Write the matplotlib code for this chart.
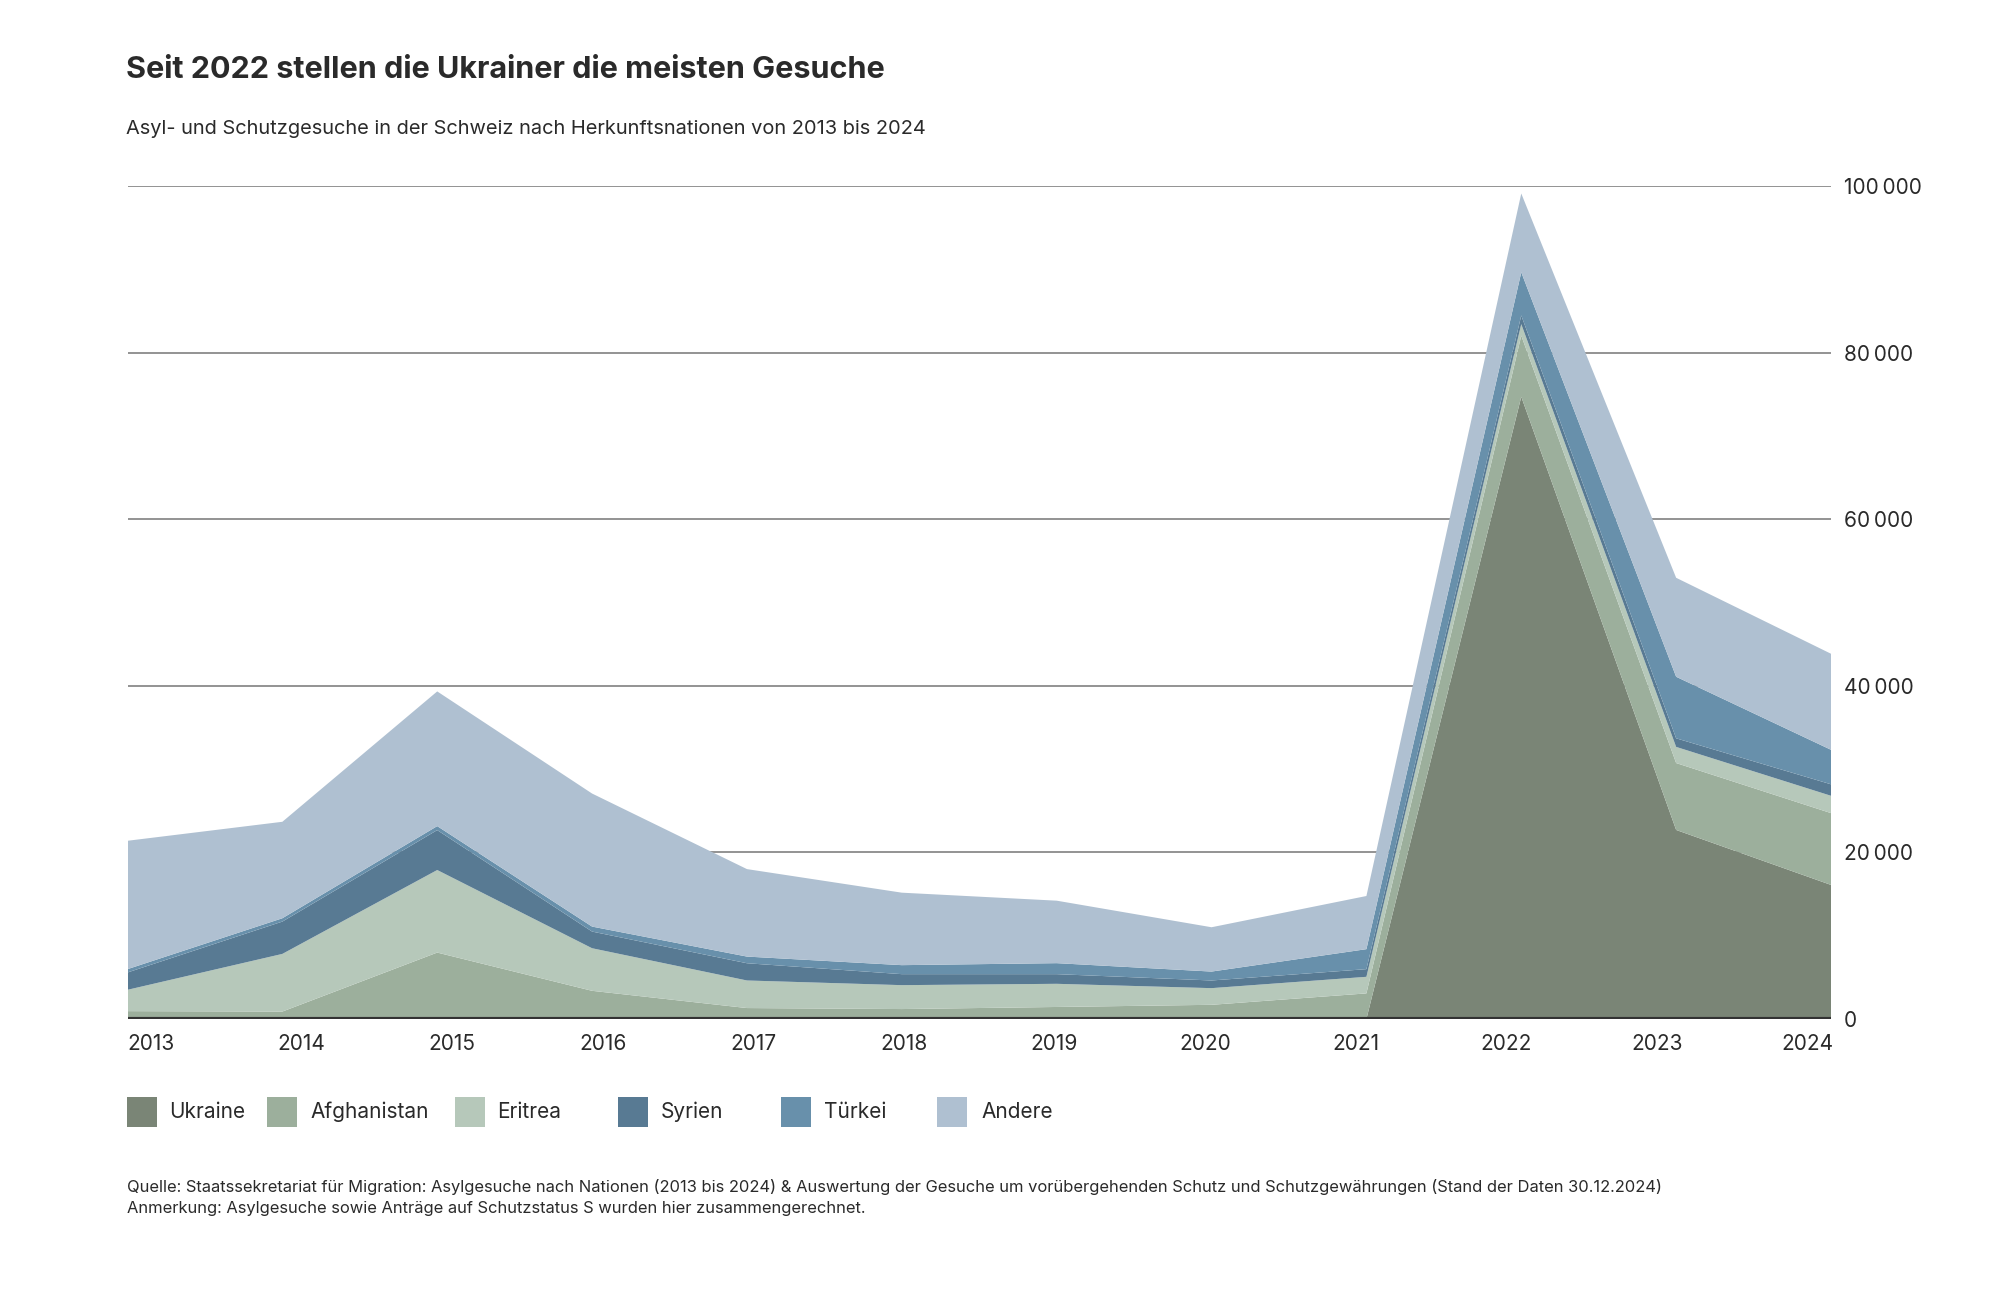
import matplotlib
matplotlib.use("Agg")
import matplotlib.pyplot as plt
from matplotlib.patches import Rectangle
import numpy as np

plt.rcParams['font.family'] = ['Inter', 'DejaVu Sans']

years = [2013, 2014, 2015, 2016, 2017, 2018, 2019, 2020, 2021, 2022, 2023, 2024]
series_names = ["Ukraine", "Afghanistan", "Eritrea", "Syrien", "Türkei", "Andere"]
ukraine     = [0, 0, 0, 0, 0, 0, 0, 0, 0, 74700, 22700, 16100]
afghanistan = [950, 900, 7980, 3390, 1320, 1200, 1450, 1710, 3080, 7340, 8030, 8620]
eritrea     = [2560, 6920, 9910, 5110, 3310, 2870, 2780, 2000, 1990, 1380, 1940, 2080]
syrien      = [2080, 3880, 4790, 2000, 2070, 1320, 1160, 920, 920, 1040, 1030, 1380]
tuerkei     = [400, 400, 480, 600, 800, 1080, 1320, 1070, 2400, 5180, 7390, 4140]
andere      = [15410, 11580, 16170, 15970, 10500, 8700, 7500, 5320, 6380, 9460, 11880, 11530]
y_ticks = [0, 20000, 40000, 60000, 80000, 100000]
y_tick_labels = ["0", "20\u2009000", "40\u2009000", "60\u2009000", "80\u2009000", "100\u2009000"]

colors = ["#7a8576", "#9caf9c", "#b6c8ba", "#587a93", "#6890ab", "#afc0d1"]
text_color = "#2a2a2a"

W, H = 2000, 1297
fig = plt.figure(figsize=(20, 12.97), dpi=100)
ax = fig.add_axes([127.5 / W, 0.2143, (1831 - 127.5) / W, 0.6423])

ax.stackplot(years, ukraine, afghanistan, eritrea, syrien, tuerkei, andere,
             colors=colors, linewidth=0, zorder=2)

ax.set_xlim(years[0], years[-1])
ax.set_ylim(0, 100000)

for t in y_ticks[1:]:
    ax.axhline(t, color="#8a8a8a", linewidth=1.3, zorder=1)
ax.axhline(0, color="#333333", linewidth=3.0, zorder=3)

for s in ax.spines.values():
    s.set_visible(False)

ax.yaxis.tick_right()
ax.set_yticks(y_ticks)
ax.set_yticklabels(y_tick_labels)
ax.tick_params(axis='y', length=0, pad=9, labelsize=15, labelcolor=text_color)

# x labels distributed edge to edge
n = len(years)
w = 0.0275
pos = [years[0] + (w / 2 + i * (1 - w) / (n - 1)) * (years[-1] - years[0]) for i in range(n)]
ax.set_xticks(pos)
ax.set_xticklabels([str(y) for y in years])
ax.tick_params(axis='x', length=0, pad=11, labelsize=15, labelcolor=text_color)

fig.text(0.0628, 1 - 70.5 / H, "Seit 2022 stellen die Ukrainer die meisten Gesuche",
         fontsize=22, fontweight='bold', color=text_color, va='center', ha='left')
fig.text(0.0628, 1 - 129.5 / H, "Asyl- und Schutzgesuche in der Schweiz nach Herkunftsnationen von 2013 bis 2024",
         fontsize=14.4, color=text_color, va='center', ha='left')

# legend
sq_x = [127, 267, 455, 618, 781, 937]
lab_x = [169, 310, 497, 661, 824, 981]
ly = 1112
sq = 30
for name, c, sx, lx in zip(series_names, colors, sq_x, lab_x):
    fig.add_artist(Rectangle((sx / W, 1 - (ly + sq / 2) / H), sq / W, sq / H,
                             transform=fig.transFigure, facecolor=c, edgecolor='none'))
    fig.text(lx / W, 1 - ly / H, name, fontsize=15, color=text_color, va='center', ha='left')

fig.text(127 / W, 1 - 1187 / H,
         "Quelle: Staatssekretariat für Migration: Asylgesuche nach Nationen (2013 bis 2024) & Auswertung der Gesuche um vorübergehenden Schutz und Schutzgewährungen (Stand der Daten 30.12.2024)",
         fontsize=11.9, color=text_color, va='center', ha='left')
fig.text(127 / W, 1 - 1209 / H,
         "Anmerkung: Asylgesuche sowie Anträge auf Schutzstatus S wurden hier zusammengerechnet.",
         fontsize=11.9, color=text_color, va='center', ha='left')

fig.savefig("out.png", dpi=100, facecolor="white")
